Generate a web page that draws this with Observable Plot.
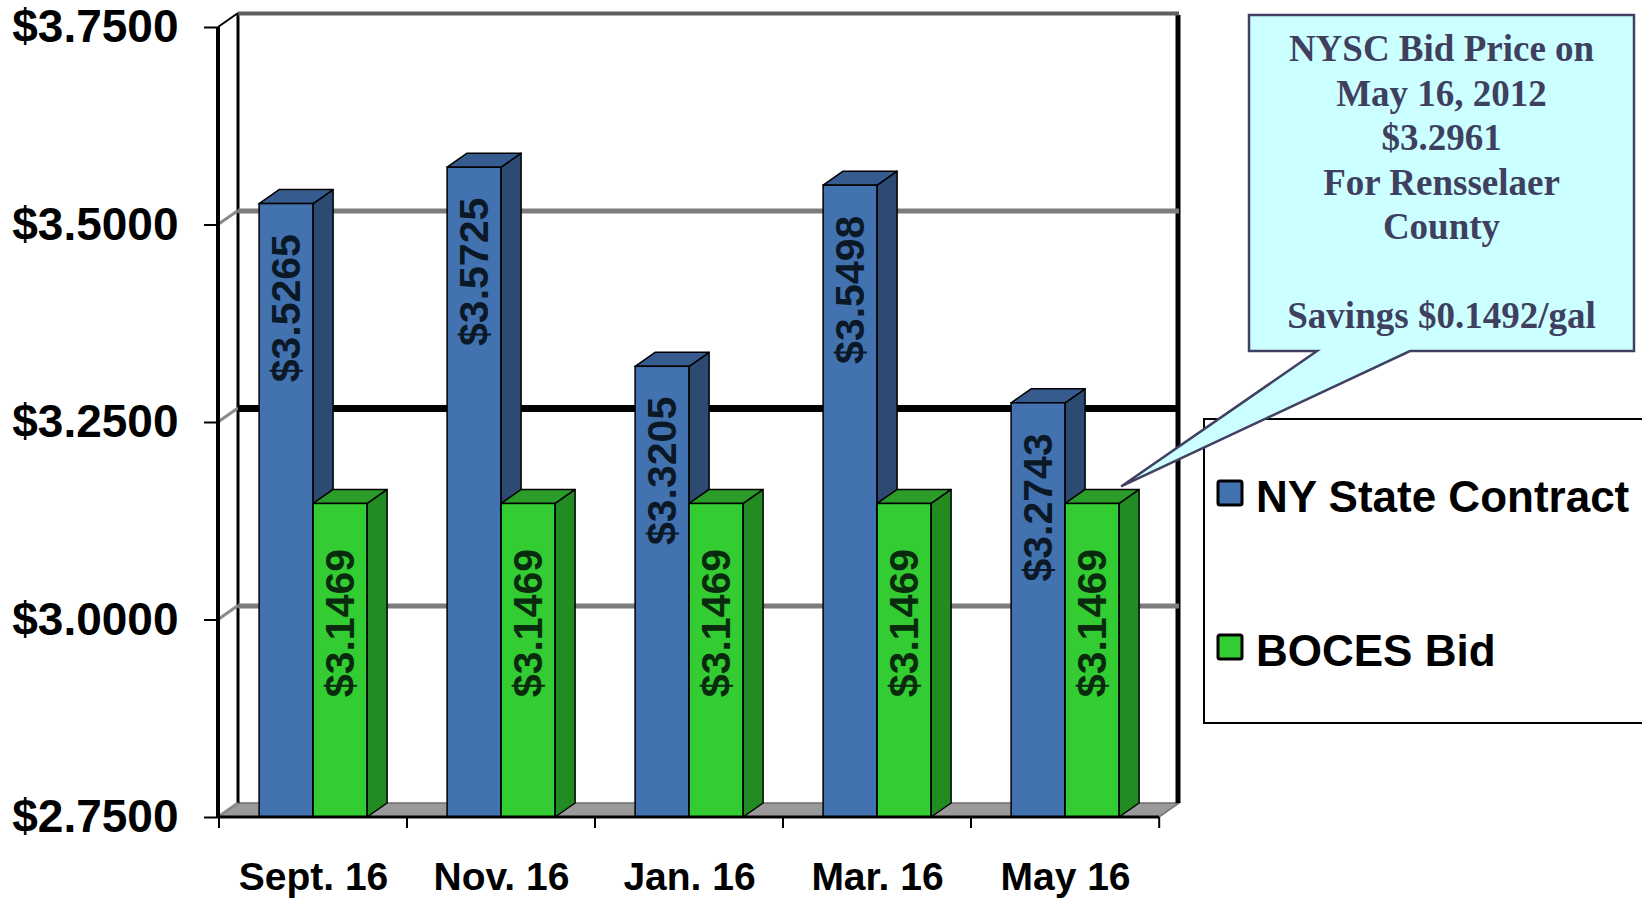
<!DOCTYPE html>
<html>
<head>
<meta charset="utf-8">
<script src="https://cdn.jsdelivr.net/npm/d3@7"></script>
<script src="https://cdn.jsdelivr.net/npm/@observablehq/plot@0.6"></script>
<style>
  html, body { margin: 0; padding: 0; background: #fff; }
  svg { display: block; }
</style>
</head>
<body>
<div id="chart"></div>
<script>
// Fuel price comparison: NY State Contract vs. BOCES bid, per bid month
const months = ["Sept. 16", "Nov. 16", "Jan. 16", "Mar. 16", "May 16"];
const seriesNames = ["NY State Contract", "BOCES Bid"];
const nyState = [3.5265, 3.5725, 3.3205, 3.5498, 3.2743];
const boces = [3.1469, 3.1469, 3.1469, 3.1469, 3.1469];
const yTicks = [2.75, 3.0, 3.25, 3.5, 3.75];
const highlightTick = 3.25;
const calloutDate = "May 16, 2012";
const calloutBid = 3.2961;
const calloutCounty = "Rensselaer";

// layout
const W = 1642, H = 899;
const mL = 218, mR = 483, mT = 27, mB = 82;
const bw = (W - mL - mR) / months.length;
const barW = 54;
const [ddx, ddy] = [20, -14]; // 3-D depth offset
const yMin = yTicks[0], yMax = yTicks[yTicks.length - 1];

const styles = {
  [seriesNames[0]]: {front: "#4272b0", side: "#2c4a72", top: "#365c8f", label: "#0b1826", shift: -barW, labelDy: 30},
  [seriesNames[1]]: {front: "#33cc33", side: "#228b22", top: "#2a9d2a", label: "#0a2a0e", shift: 0, labelDy: 45}
};

const rows = months.flatMap((m, i) => [
  {month: m, series: seriesNames[0], value: nyState[i]},
  {month: m, series: seriesNames[1], value: boces[i]}
]);
const bySeries = s => rows.filter(d => d.series === s);

const money = d3.format("$.4f");

// back wall, floor and left wall of the 3-D box
function boxBack(index, {x, y}) {
  const g = d3.create("svg:g");
  const x0 = mL, x1 = W - mR;
  const yb = y(yMin), yt = y(yMax);
  // floor
  g.append("path")
    .attr("d", `M${x0},${yb}L${x1},${yb}L${x1 + ddx},${yb + ddy}L${x0 + ddx},${yb + ddy}Z`)
    .attr("fill", "#9a9a9a").attr("stroke", "#6e6e6e").attr("stroke-width", 1.5);
  // back wall left edge
  g.append("line").attr("x1", x0 + ddx).attr("x2", x0 + ddx)
    .attr("y1", yt + ddy).attr("y2", yb + ddy)
    .attr("stroke", "#000").attr("stroke-width", 3);
  // back wall right edge
  g.append("line").attr("x1", x1 + ddx - 1).attr("x2", x1 + ddx - 1)
    .attr("y1", yt + ddy + 2).attr("y2", yb + ddy)
    .attr("stroke", "#000").attr("stroke-width", 5);
  // connectors from the front axis to the back wall
  for (const v of yTicks) {
    const top = v === yMax;
    g.append("line")
      .attr("x1", x0).attr("y1", y(v))
      .attr("x2", x0 + ddx).attr("y2", y(v) + ddy)
      .attr("stroke", top ? "#000" : "#8a8a8a").attr("stroke-width", top ? 2 : 3);
  }
  return g.node();
}

// side and top faces of the bars of one series
function barFaces(series) {
  const st = styles[series];
  return (index, {x, y}) => {
    const g = d3.create("svg:g")
      .attr("stroke", "#000").attr("stroke-width", 1.5).attr("stroke-linejoin", "round");
    for (const d of bySeries(series)) {
      const xl = x(d.month) + bw / 2 + st.shift;
      const xr = xl + barW;
      const yv = y(d.value), y0 = y(yMin);
      g.append("path")
        .attr("d", `M${xr},${y0}L${xr},${yv}L${xr + ddx},${yv + ddy}L${xr + ddx},${y0 + ddy}Z`)
        .attr("fill", st.side);
      g.append("path")
        .attr("d", `M${xl},${yv}L${xr},${yv}L${xr + ddx},${yv + ddy}L${xl + ddx},${yv + ddy}Z`)
        .attr("fill", st.top);
    }
    return g.node();
  };
}

function frontBars(series) {
  const st = styles[series];
  return Plot.barY(bySeries(series), {
    x: "month", y1: yMin, y2: "value",
    fill: st.front, stroke: "#000", strokeWidth: 1.5,
    insetLeft: bw / 2 + st.shift, insetRight: bw / 2 - st.shift - barW
  });
}

function valueLabels(series) {
  const st = styles[series];
  return Plot.text(bySeries(series), {
    x: "month", y: "value", text: d => money(d.value),
    rotate: -90, textAnchor: "end", lineAnchor: "middle",
    dx: st.shift + barW / 2, dy: st.labelDy,
    fontSize: 41, fontWeight: "bold", fill: st.label
  });
}

// front axis lines, baseline and category separators
function boxFront(index, {x, y}) {
  const g = d3.create("svg:g");
  const x0 = mL, x1 = W - mR;
  const yb = y(yMin), yt = y(yMax);
  g.append("line").attr("x1", x0).attr("x2", x0).attr("y1", yt).attr("y2", yb + 1)
    .attr("stroke", "#000").attr("stroke-width", 4);
  g.append("line").attr("x1", x0).attr("x2", x1).attr("y1", yb).attr("y2", yb)
    .attr("stroke", "#000").attr("stroke-width", 3);
  const edges = months.map(m => x(m)).concat([x(months[months.length - 1]) + bw]);
  for (const e of edges) {
    g.append("line").attr("x1", e).attr("x2", e).attr("y1", yb).attr("y2", yb + 11)
      .attr("stroke", "#000").attr("stroke-width", 2);
  }
  return g.node();
}

// legend box on the right
function legend() {
  const g = d3.create("svg:g");
  g.append("rect").attr("x", 1204).attr("y", 419).attr("width", 470).attr("height", 304)
    .attr("fill", "#fff").attr("stroke", "#000").attr("stroke-width", 2);
  seriesNames.forEach((s, i) => {
    const yy = 481 + i * 154;
    g.append("rect").attr("x", 1218).attr("y", yy).attr("width", 24).attr("height", 24)
      .attr("rx", 2).attr("fill", styles[s].front).attr("stroke", "#000").attr("stroke-width", 3);
    g.append("text").attr("x", 1256).attr("y", yy + 31)
      .attr("text-anchor", "start")
      .attr("font-size", 44).attr("font-weight", "bold").attr("fill", "#000")
      .attr("font-family", "Liberation Sans, Arial, sans-serif")
      .text(s);
  });
  return g.node();
}

// speech-bubble callout pointing at the latest BOCES bar
function callout(index, {x, y}) {
  const g = d3.create("svg:g");
  const last = months.length - 1;
  const tipX = x(months[last]) + bw / 2 + barW + 2;
  const tipY = y(boces[last]) - 17;
  const bx0 = 1249, bx1 = 1634, by0 = 15, by1 = 351;
  g.append("path")
    .attr("d", `M${bx0},${by0}L${bx1},${by0}L${bx1},${by1}L1410,${by1}L${tipX},${tipY}L1317,${by1}L${bx0},${by1}Z`)
    .attr("fill", "#ccffff").attr("stroke", "#404062").attr("stroke-width", 2.5)
    .attr("stroke-linejoin", "miter");
  const lines = [
    "NYSC Bid Price on",
    calloutDate,
    money(calloutBid),
    "For " + calloutCounty,
    "County",
    "",
    "Savings " + money(calloutBid - boces[last]) + "/gal"
  ];
  const t = g.append("text")
    .attr("font-family", "Liberation Serif, Times New Roman, serif")
    .attr("font-size", 37).attr("font-weight", "bold").attr("fill", "#3f3f60")
    .attr("text-anchor", "middle");
  lines.forEach((ln, i) => {
    t.append("tspan").attr("x", (bx0 + bx1) / 2).attr("y", 61 + i * 44.5).text(ln);
  });
  return g.node();
}

const chart = Plot.plot({
  width: W, height: H,
  marginLeft: mL, marginRight: mR, marginTop: mT, marginBottom: mB,
  style: {background: "#fff", fontFamily: "Liberation Sans, Arial, sans-serif", overflow: "visible"},
  x: {domain: months, padding: 0},
  y: {domain: [yMin, yMax]},
  marks: [
    boxBack,
    // gridlines on the back wall
    Plot.ruleY(yTicks.filter(v => v !== highlightTick && v !== yMin && v !== yMax),
      {dx: ddx, dy: ddy, stroke: "#7c7c7c", strokeWidth: 5}),
    Plot.ruleY([highlightTick], {dx: ddx, dy: ddy, stroke: "#000", strokeWidth: 7}),
    Plot.ruleY([yMax], {dx: ddx, dy: ddy, stroke: "#5f5f5f", strokeWidth: 4}),
    barFaces(seriesNames[0]),
    frontBars(seriesNames[0]),
    barFaces(seriesNames[1]),
    frontBars(seriesNames[1]),
    boxFront,
    valueLabels(seriesNames[0]),
    valueLabels(seriesNames[1]),
    Plot.axisY({ticks: yTicks, tickFormat: money, tickSize: 14, tickPadding: 26,
      fontSize: 46, fontWeight: "bold", strokeWidth: 2, label: null}),
    Plot.axisX({tickSize: 0, tickPadding: 45, fontSize: 39, fontWeight: "bold", label: null}),
    legend,
    callout
  ]
});

document.getElementById("chart").appendChild(chart);
</script>
</body>
</html>
